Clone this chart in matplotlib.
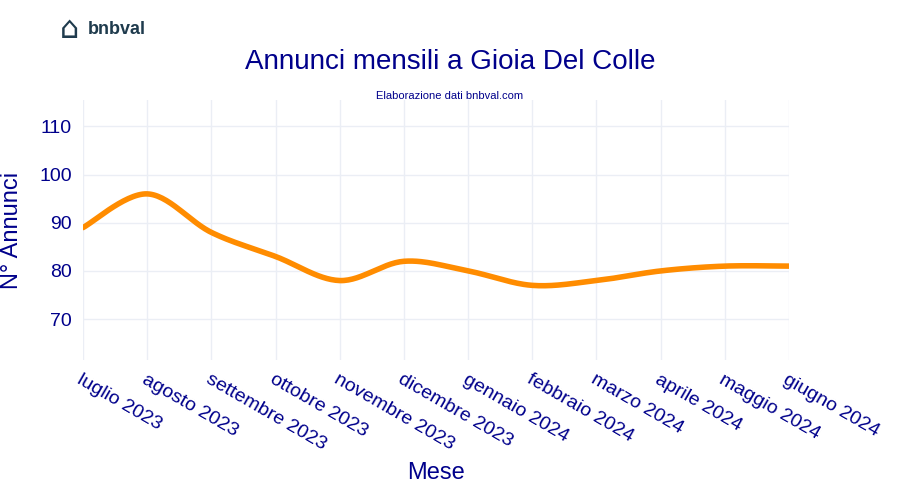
import matplotlib
matplotlib.use("Agg")
import matplotlib.pyplot as plt
import numpy as np

plt.rcParams['font.family'] = ['Liberation Sans', 'DejaVu Sans']

months = ["luglio 2023","agosto 2023","settembre 2023","ottobre 2023","novembre 2023","dicembre 2023",
          "gennaio 2024","febbraio 2024","marzo 2024","aprile 2024","maggio 2024","giugno 2024"]
values = [89, 96, 88, 83, 78, 82, 80, 77, 78, 80, 81, 81]

def cardinal(x, y, n=30, t=0.5):
    x = np.asarray(x, float); y = np.asarray(y, float)
    px = np.concatenate([[x[0]], x, [x[-1]]]); py = np.concatenate([[y[0]], y, [y[-1]]])
    X, Y = [], []
    for i in range(1, len(px) - 2):
        s = np.linspace(0, 1, n, endpoint=False)
        m0x = t * (px[i+1] - px[i-1]); m1x = t * (px[i+2] - px[i])
        m0y = t * (py[i+1] - py[i-1]); m1y = t * (py[i+2] - py[i])
        h00 = 2*s**3 - 3*s**2 + 1; h10 = s**3 - 2*s**2 + s
        h01 = -2*s**3 + 3*s**2; h11 = s**3 - s**2
        X.extend(h00*px[i] + h10*m0x + h01*px[i+1] + h11*m1x)
        Y.extend(h00*py[i] + h10*m0y + h01*py[i+1] + h11*m1y)
    X.append(x[-1]); Y.append(y[-1])
    return np.array(X), np.array(Y)

fig = plt.figure(figsize=(9, 5), dpi=100)
ax = fig.add_axes([83/900, 1-360/500, (789-83)/900, 260/500])
xs = np.arange(len(months))
sx, sy = cardinal(xs, values)
ax.plot(sx, sy, color="#FF8C00", lw=4, solid_capstyle="round")
ax.set_xlim(0, len(months)-1)
ax.set_ylim(61.5, 115.5)
ax.set_yticks([70, 80, 90, 100, 110])
ax.set_xticks(xs)
ax.set_xticklabels(months, rotation=-30, ha="left", va="top", rotation_mode="anchor")
navy = "#00008B"
ax.tick_params(colors=navy, labelsize=14, length=0, pad=8)
ax.grid(True, color="#EBEEF5", lw=1)
for s in ax.spines.values():
    s.set_visible(False)
ax.set_xlabel("Mese", color=navy, fontsize=17, labelpad=6)
ax.set_ylabel("N° Annunci", color=navy, fontsize=17, labelpad=12)
fig.text(0.5, 1-62/500, "Annunci mensili a Gioia Del Colle", color=navy, fontsize=20, ha="center", va="center")
fig.text(0.5, 1-96/500, "Elaborazione dati bnbval.com", color=navy, fontsize=8, ha="center", va="center")
fig.text(88/900, 1-30/500, "bnbval", color="#1f3b4d", fontsize=13, fontweight="bold", ha="left", va="center")
fig.text(70/900, 1-30/500, "⌂", color="#1f3b4d", fontsize=22, ha="center", va="center", family="DejaVu Sans")
fig.savefig("out.png")
